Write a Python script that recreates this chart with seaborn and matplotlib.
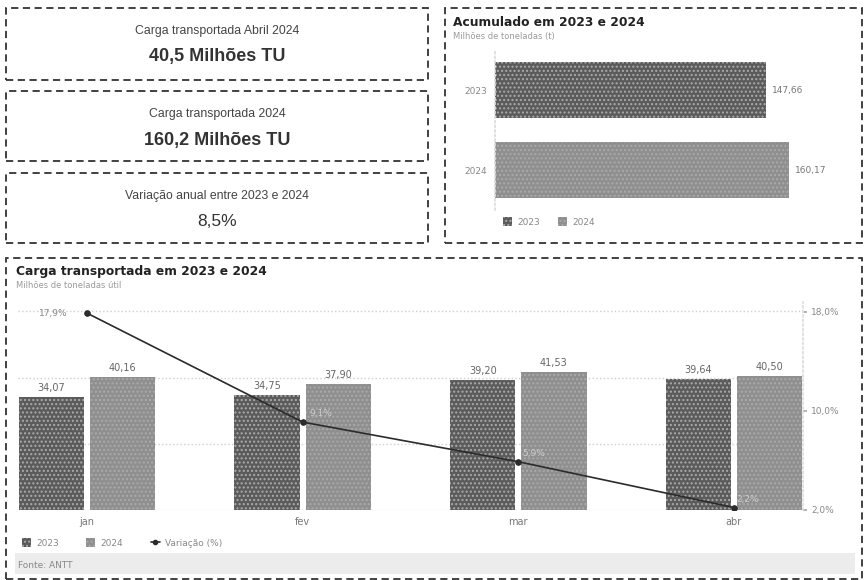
import numpy as np
import pandas as pd
import matplotlib
matplotlib.use("Agg")
import matplotlib.pyplot as plt
from matplotlib.patches import Rectangle
from matplotlib.lines import Line2D
import seaborn as sns

# ---------------- data ----------------
meses = ["jan", "fev", "mar", "abr"]
carga_2023 = [34.07, 34.75, 39.20, 39.64]
carga_2024 = [40.16, 37.90, 41.53, 40.50]
variacao = [17.9, 9.1, 5.9, 2.2]
variacao_labels = ["17,9%", "9,1%", "5,9%", "2,2%"]

anos = ["2023", "2024"]
acumulado = [147.66, 160.17]

card_titles = ["Carga transportada Abril 2024", "Carga transportada 2024",
               "Variação anual entre 2023 e 2024"]
card_values = ["40,5 Milhões TU", "160,2 Milhões TU", "8,5%"]
card_bold = [True, True, False]

right_ticks = [2, 10, 18]
right_ticklabels = ["2,0%", "10,0%", "18,0%"]

C23 = "#5b5b5b"
C24 = "#8f8f8f"
CLINE = "#2b2b2b"

sns.set_theme(style="white")
plt.rcParams["font.family"] = ["DejaVu Sans"]

W, H = 866, 580
fig = plt.figure(figsize=(W / 100, H / 100), dpi=100)
fig.patch.set_facecolor("white")


def rect(x0, y0, x1, y1):
    return [x0 / W, 1 - y1 / H, (x1 - x0) / W, (y1 - y0) / H]


def fx(x):
    return x / W


def fy(y):
    return 1 - y / H


def dashed_box(x0, y0, x1, y1):
    fig.patches.append(Rectangle((fx(x0), fy(y1)), (x1 - x0) / W, (y1 - y0) / H,
                                 transform=fig.transFigure, fill=False,
                                 edgecolor="#333333", linewidth=1.3,
                                 linestyle=(0, (4, 2.5))))


# ---------------- cards ----------------
card_boxes = [(6, 8, 428, 80), (6, 91, 428, 161), (6, 173, 428, 243)]
for (x0, y0, x1, y1), t, v, b in zip(card_boxes, card_titles, card_values, card_bold):
    dashed_box(x0, y0, x1, y1)
    cx = (x0 + x1) / 2
    fig.text(fx(cx), fy(y0 + 23), t, ha="center", va="center",
             fontsize=8.8, color="#444444", family="Liberation Sans")
    fig.text(fx(cx), fy(y0 + 49), v, ha="center", va="center",
             fontsize=13 if b else 12.5, color="#333333",
             fontweight="bold" if b else "normal", family="Liberation Sans")

# ---------------- top-right panel ----------------
dashed_box(445, 8, 862, 243)
fig.text(fx(453), fy(22), "Acumulado em 2023 e 2024", ha="left", va="center",
         fontsize=8.8, fontweight="bold", color="#222222")
fig.text(fx(453), fy(36), "Milhões de toneladas (t)", ha="left", va="center",
         fontsize=6, color="#9a9a9a")

axh = fig.add_axes(rect(495, 50, 855, 210))
df_acc = pd.DataFrame({"ano": anos, "valor": acumulado})
sns.barplot(data=df_acc, x="valor", y="ano", hue="ano", palette=[C23, C24],
            orient="h", width=0.7, ax=axh, legend=False,
            edgecolor="#aaaaaa", linewidth=0)
for p in axh.patches:
    p.set_hatch("....")
for c in axh.containers:
    axh.bar_label(c, labels=[f"{v:.2f}".replace(".", ",") for v in c.datavalues],
                  padding=4, fontsize=6.5, color="#777777")
axh.set_xlim(0, 196)
axh.set_xlabel("")
axh.set_ylabel("")
axh.set_xticks([])
axh.tick_params(axis="y", labelsize=6.5, labelcolor="#888888", length=0, pad=6)
for s in ["top", "right", "bottom"]:
    axh.spines[s].set_visible(False)
axh.spines["left"].set_color("#dddddd")
axh.spines["left"].set_linestyle(":")
axh.set_facecolor("none")
hh = [Rectangle((0, 0), 1, 1, facecolor=C23, hatch="....", edgecolor="#aaaaaa", linewidth=0),
      Rectangle((0, 0), 1, 1, facecolor=C24, hatch="....", edgecolor="#aaaaaa", linewidth=0)]
fig.legend(hh, anos, loc="center left", bbox_to_anchor=(fx(495), fy(222)),
           ncol=2, frameon=False, fontsize=6.5, handlelength=1.0, handleheight=1.0,
           columnspacing=2.0, handletextpad=0.6, labelcolor="#888888")

# ---------------- bottom panel ----------------
dashed_box(6, 258, 862, 579)
fig.text(fx(16), fy(272), "Carga transportada em 2023 e 2024", ha="left", va="center",
         fontsize=8.8, fontweight="bold", color="#222222")
fig.text(fx(16), fy(286), "Milhões de toneladas útil", ha="left", va="center",
         fontsize=6, color="#9a9a9a")

ax = fig.add_axes(rect(18, 302, 803, 510))
df = pd.DataFrame({
    "mes": meses * 2,
    "ano": ["2023"] * len(meses) + ["2024"] * len(meses),
    "valor": carga_2023 + carga_2024,
})
sns.barplot(data=df, x="mes", y="valor", hue="ano", palette=[C23, C24],
            width=0.66, gap=0.08, ax=ax, legend=False,
            edgecolor="#aaaaaa", linewidth=0)
for p in ax.patches:
    p.set_hatch("....")
for c in ax.containers:
    ax.bar_label(c, labels=[f"{v:.2f}".replace(".", ",") for v in c.datavalues],
                 padding=3, fontsize=7, color="#666666")
ax.set_xlim(-0.32, 3.32)
ax.set_ylim(0, 62.8)
ax.set_yticks([0, 20, 40, 60])
ax.set_yticklabels([])
ax.tick_params(axis="y", length=0)
ax.tick_params(axis="x", length=0, labelsize=7, labelcolor="#777777", pad=5)
ax.set_xlabel("")
ax.set_ylabel("")
ax.grid(axis="y", color="#cfcfcf", linestyle=":", linewidth=1)
ax.set_axisbelow(True)
for s in ["top", "right", "left", "bottom"]:
    ax.spines[s].set_visible(False)
ax.set_facecolor("none")

ax2 = ax.twinx()
xs = np.arange(len(meses))
sns.lineplot(x=xs, y=variacao, ax=ax2, color=CLINE, marker="o", markersize=4,
             linewidth=1.2, markeredgecolor=CLINE)
offsets = [(-14, 0), (5, 6), (3, 6), (2, 6)]
has = ["right", "left", "left", "left"]
cols = ["#888888", "#cccccc", "#cccccc", "#cccccc"]
for x, v, lab, off, h, col in zip(xs, variacao, variacao_labels, offsets, has, cols):
    ax2.annotate(lab, (x, v), xytext=off, textcoords="offset points",
                 ha=h, va="center", fontsize=6.5, color=col)
ax2.set_ylim(2, 18.8)
ax2.set_yticks(right_ticks)
ax2.set_yticklabels(right_ticklabels)
ax2.tick_params(axis="y", labelsize=6.5, labelcolor="#888888", length=3,
                color="#aaaaaa", pad=3)
ax2.set_xlim(-0.32, 3.32)
ax2.set_ylabel("")
ax2.grid(False)
for s in ["top", "left", "bottom"]:
    ax2.spines[s].set_visible(False)
ax2.spines["right"].set_color("#dddddd")
ax2.spines["right"].set_linestyle(":")

lh = [Rectangle((0, 0), 1, 1, facecolor=C23, hatch="....", edgecolor="#aaaaaa", linewidth=0),
      Rectangle((0, 0), 1, 1, facecolor=C24, hatch="....", edgecolor="#aaaaaa", linewidth=0),
      Line2D([0], [0], color=CLINE, marker="o", markersize=3, linewidth=1.2)]
fig.legend(lh, ["2023", "2024", "Variação (%)"], loc="center left",
           bbox_to_anchor=(fx(14), fy(543)), ncol=3, frameon=False, fontsize=6.5,
           handlelength=1.0, handleheight=1.0, columnspacing=3.0, handletextpad=0.6,
           labelcolor="#888888")

# source band
fig.patches.append(Rectangle((fx(15), fy(574)), (855 - 15) / W, (574 - 553) / H,
                             transform=fig.transFigure, facecolor="#ececec",
                             edgecolor="none"))
fig.text(fx(18), fy(565), "Fonte: ANTT", ha="left", va="center",
         fontsize=6.5, color="#888888")

fig.savefig("out.png", dpi=100, facecolor="white")
